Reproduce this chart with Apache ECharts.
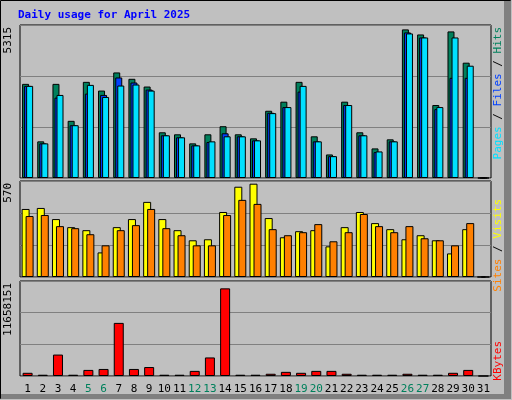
<!DOCTYPE html>
<html>
<head>
<meta charset="utf-8">
<script src="https://cdn.jsdelivr.net/npm/echarts@6/dist/echarts.min.js"></script>
<style>html,body{margin:0;padding:0;background:#c0c0c0}#main{width:512px;height:400px}</style>
</head>
<body>
<div id="main"></div>
<script>
// data
var days = ['1','2','3','4','5','6','7','8','9','10','11','12','13','14','15','16','17','18','19','20','21','22','23','24','25','26','27','28','29','30','31'];
var weekend = ['5','6','12','13','19','20','26','27'];
var hits  = [3270,1273,3270,1986,3340,3037,3667,3446,3177,1588,1518,1203,1518,1799,1518,1378,2336,2651,3340,1448,818,2651,1588,1028,1343,5163,4987,2535,5092,4006,0];
var files = [3200,1203,2792,1834,2932,2885,3492,3317,3072,1483,1413,1133,1250,1553,1448,1308,2266,2464,3002,1273,759,2535,1483,899,1273,5057,4882,2394,3480,3480,0];
var pages = [3200,1203,2885,1834,3235,2815,3212,3247,3037,1483,1413,1133,1273,1448,1448,1308,2254,2464,3200,1273,759,2535,1483,923,1273,5022,4882,2464,4882,3901,0];
var visits = [404,410,344,296,278,146,296,344,446,344,278,218,224,386,536,554,350,236,272,278,182,296,386,320,284,224,248,218,140,284,0];
var sites  = [362,368,302,290,254,188,278,308,404,290,248,188,188,368,458,434,284,248,266,314,212,266,374,302,266,302,230,218,188,320,0];
var kbytes = [392000,157000,2630000,157000,746000,864000,6516000,864000,1099000,157000,157000,628000,2277000,10755000,157000,157000,275000,510000,392000,628000,628000,275000,157000,157000,157000,275000,157000,157000,392000,746000,0];
var maxHits = 5315, maxVisits = 570, maxKbytes = 11658151;

var font = 'DejaVu Sans Mono';
var chart = echarts.init(document.getElementById('main'));

var grids = [
  {left: 20, right: 21, top: 25, height: 153},
  {left: 20, right: 21, top: 181, height: 96},
  {left: 20, right: 21, top: 281, height: 95}
];
grids.forEach(function(g){ g.show = true; g.backgroundColor = '#c0c0c0'; g.borderColor = '#000'; g.borderWidth = 1; });

function xAx(i, labels){
  return {
    type: 'category', gridIndex: i, data: days,
    axisLine: {show: false}, axisTick: {show: false},
    axisLabel: labels ? {
      show: true, interval: 0, margin: 8, fontFamily: font, fontSize: 11, color: '#000',
      formatter: function(v){ return weekend.indexOf(v) >= 0 ? '{w|' + v + '}' : v; },
      rich: {w: {color: '#00805c', fontFamily: font, fontSize: 11}}
    } : {show: false}
  };
}
function yAx(i, max){
  return {
    type: 'value', gridIndex: i, min: 0, max: max, interval: max / 3,
    axisLabel: {show: false}, axisLine: {show: false}, axisTick: {show: false},
    splitLine: {show: true, lineStyle: {color: '#808080', width: 1}}
  };
}
function bar(name, data, color, xi, w, gap){
  return {
    name: name, type: 'bar', xAxisIndex: xi, yAxisIndex: xi, data: data,
    barWidth: w, barGap: gap, animation: false,
    itemStyle: {color: color, borderColor: '#000', borderWidth: 1}
  };
}

function sideLabel(x, y, rich, text){
  return {type: 'text', x: x, y: y, rotation: Math.PI / 2,
    style: {text: text, rich: rich, font: '11px ' + font, align: 'left', verticalAlign: 'middle'}};
}

chart.setOption({
  backgroundColor: '#c0c0c0',
  animation: false,
  grid: grids,
  xAxis: [xAx(0, false), xAx(1, false), xAx(2, true)],
  yAxis: [yAx(0, maxHits), yAx(1, maxVisits), yAx(2, maxKbytes)],
  series: [
    bar('Hits', hits, '#00805c', 0, 7, '-71%'),
    bar('Files', files, '#0040ff', 0, 7, '-71%'),
    bar('Pages', pages, '#00e0ff', 0, 7, '-71%'),
    bar('Visits', visits, '#ffff00', 1, 8, '-50%'),
    bar('Sites', sites, '#ff8000', 1, 8, '-50%'),
    bar('KBytes', kbytes, '#ff0000', 2, 10, '0%')
  ],
  graphic: [
    {type: 'rect', shape: {x: 0.5, y: 0.5, width: 510, height: 398}, style: {fill: 'none', stroke: '#000', lineWidth: 1}},
    {type: 'rect', shape: {x: 504, y: 1, width: 7, height: 398}, style: {fill: '#808080'}},
    {type: 'rect', shape: {x: 1, y: 394, width: 510, height: 5}, style: {fill: '#808080'}},
    {type: 'text', x: 18, y: 10, style: {text: 'Daily usage for April 2025', font: 'bold 11px ' + font, fill: '#0000ff'}},
    {type: 'text', x: 8, y: 27, rotation: Math.PI / 2, style: {text: '5315', font: '11px ' + font, fill: '#000', align: 'right', verticalAlign: 'middle'}},
    {type: 'text', x: 8, y: 183, rotation: Math.PI / 2, style: {text: '570', font: '11px ' + font, fill: '#000', align: 'right', verticalAlign: 'middle'}},
    {type: 'text', x: 8, y: 283, rotation: Math.PI / 2, style: {text: '11658151', font: '11px ' + font, fill: '#000', align: 'right', verticalAlign: 'middle'}},
    {type: 'text', x: 498, y: 27, rotation: Math.PI / 2, style: {
      text: '{p|Pages}{s| / }{f|Files}{s| / }{h|Hits}', font: '11px ' + font, align: 'right', verticalAlign: 'middle',
      rich: {p: {fill: '#00e0ff', font: '11px ' + font}, f: {fill: '#0040ff', font: '11px ' + font}, h: {fill: '#00805c', font: '11px ' + font}, s: {fill: '#000', font: '11px ' + font}}}},
    {type: 'text', x: 498, y: 199, rotation: Math.PI / 2, style: {
      text: '{a|Sites}{s| / }{b|Visits}', font: '11px ' + font, align: 'right', verticalAlign: 'middle',
      rich: {a: {fill: '#ff8000', font: '11px ' + font}, b: {fill: '#ffff00', font: '11px ' + font}, s: {fill: '#000', font: '11px ' + font}}}},
    {type: 'text', x: 498, y: 341, rotation: Math.PI / 2, style: {text: 'KBytes', font: '11px ' + font, fill: '#ff0000', align: 'right', verticalAlign: 'middle'}}
  ]
});
</script>
</body>
</html>
